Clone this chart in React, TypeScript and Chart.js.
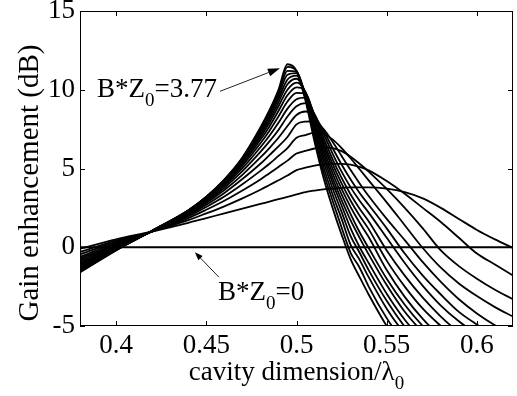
import React, { useEffect, useRef } from "react";
import { Chart, registerables } from "chart.js";

Chart.register(...registerables);

// cavity dimension / lambda0 sample positions
const cavity = [0.38, 0.40, 0.42, 0.44, 0.45, 0.46, 0.47, 0.48, 0.485, 0.49, 0.495, 0.50, 0.505, 0.51, 0.515, 0.52, 0.525, 0.53, 0.535, 0.54, 0.55, 0.56, 0.57, 0.58, 0.59, 0.60, 0.61, 0.62];

// gain enhancement (dB), one curve per B*Z0 value (lowest to highest, 3.77)
const gainB00 = [0, 0, 0, 0, 0, 0, 0, 0, 0, 0, 0, 0, 0, 0, 0, 0, 0, 0, 0, 0, 0, 0, 0, 0, 0, 0, 0, 0];
const gain01 = [-0.1, 0.5, 1.0, 1.55, 1.85, 2.15, 2.45, 2.75, 2.9, 3.05, 3.2, 3.35, 3.5, 3.6, 3.68, 3.73, 3.77, 3.8, 3.8, 3.8, 3.72, 3.5, 3.1, 2.5, 1.8, 1.1, 0.5, -0.05];
const gain02 = [-0.3, 0.42, 1.0, 1.72, 2.15, 2.6, 3.1, 3.65, 3.95, 4.25, 4.55, 4.9, 5.05, 5.18, 5.26, 5.3, 5.3, 5.25, 5.1, 4.88, 4.2, 3.4, 2.5, 1.6, 0.6, -0.4, -1.1, -1.8];
const gain03 = [-0.45, 0.34, 1.0, 1.85, 2.38, 2.95, 3.6, 4.3, 4.7, 5.1, 5.5, 5.95, 6.12, 6.27, 6.35, 6.3, 6.1, 5.75, 5.3, 4.8, 3.7, 2.5, 1.2, -0.2, -1.2, -2.0, -2.7, -3.3];
const gain04 = [-0.6, 0.27, 1.0, 1.95, 2.56, 3.22, 4.0, 4.85, 5.3, 5.8, 6.3, 6.95, 7.12, 7.28, 7.2, 6.85, 6.3, 5.65, 4.95, 4.25, 2.85, 1.4, -0.05, -1.3, -2.3, -3.1, -3.8, -4.4];
const gain05 = [-0.72, 0.2, 1.0, 2.03, 2.7, 3.45, 4.33, 5.3, 5.85, 6.4, 7.0, 7.8, 7.98, 8.0, 7.5, 6.7, 5.8, 4.9, 4.05, 3.25, 1.8, 0.45, -0.95, -2.2, -3.3, -4.2, -4.95, -5.6];
const gain06 = [-0.83, 0.14, 1.0, 2.1, 2.81, 3.63, 4.6, 5.7, 6.3, 6.95, 7.7, 8.4, 8.62, 8.3, 7.4, 6.3, 5.25, 4.3, 3.45, 2.7, 1.2, -0.4, -1.8, -3.0, -4.1, -4.9, -5.6, -6.2];
const gain07 = [-0.93, 0.09, 1.01, 2.15, 2.9, 3.78, 4.83, 6.05, 6.72, 7.45, 8.3, 8.95, 9.15, 8.45, 7.2, 5.95, 4.8, 3.8, 2.95, 2.2, 0.6, -1.0, -2.45, -3.7, -4.7, -5.5, -6.2, -6.8];
const gain08 = [-1.02, 0.04, 1.01, 2.2, 2.97, 3.9, 5.02, 6.35, 7.08, 7.9, 8.8, 9.4, 9.5, 8.4, 6.95, 5.6, 4.4, 3.35, 2.45, 1.65, -0.2, -1.8, -3.2, -4.4, -5.4, -6.2, -6.9, -7.5];
const gain09 = [-1.1, 0.0, 1.02, 2.23, 3.03, 4.0, 5.18, 6.6, 7.4, 8.3, 9.25, 9.8, 9.75, 8.3, 6.7, 5.3, 4.05, 2.95, 2.0, 1.15, -0.85, -2.5, -3.9, -5.0, -6.0, -6.8, -7.5, -8.1];
const gain10 = [-1.18, -0.04, 1.02, 2.26, 3.07, 4.07, 5.3, 6.82, 7.67, 8.65, 9.65, 10.15, 9.85, 8.2, 6.5, 5.0, 3.7, 2.55, 1.55, 0.65, -1.45, -3.15, -4.55, -5.7, -6.7, -7.5, -8.2, -8.8];
const gain11 = [-1.25, -0.08, 1.03, 2.28, 3.11, 4.13, 5.4, 7.0, 7.9, 8.95, 10.0, 10.45, 9.85, 8.05, 6.25, 4.7, 3.35, 2.1, 0.95, -0.05, -2.0, -3.65, -5.0, -6.1, -7.1, -7.9, -8.6, -9.2];
const gain12 = [-1.32, -0.11, 1.03, 2.3, 3.14, 4.18, 5.48, 7.15, 8.1, 9.2, 10.35, 10.7, 9.78, 7.9, 6.0, 4.4, 3.0, 1.7, 0.6, -0.45, -2.4, -4.1, -5.4, -6.5, -7.5, -8.3, -9.0, -9.6];
const gain13 = [-1.38, -0.14, 1.04, 2.31, 3.16, 4.22, 5.55, 7.28, 8.27, 9.42, 10.65, 10.9, 9.7, 7.7, 5.75, 4.1, 2.65, 1.2, 0.0, -1.0, -2.95, -4.6, -5.9, -7.0, -7.9, -8.7, -9.4, -10.0];
const gain14 = [-1.44, -0.16, 1.04, 2.32, 3.18, 4.25, 5.6, 7.38, 8.41, 9.6, 10.95, 11.05, 9.6, 7.5, 5.45, 3.75, 2.25, 0.7, -0.35, -1.45, -3.4, -5.05, -6.4, -7.5, -8.4, -9.2, -9.9, -10.5];
const gain15 = [-1.5, -0.18, 1.05, 2.33, 3.19, 4.27, 5.64, 7.47, 8.53, 9.76, 11.2, 11.15, 9.5, 7.25, 5.1, 3.35, 1.8, 0.15, -0.8, -1.9, -3.9, -5.5, -6.8, -7.9, -8.8, -9.6, -10.3, -10.9];
const gain16 = [-1.55, -0.19, 1.05, 2.34, 3.2, 4.29, 5.67, 7.54, 8.62, 9.89, 11.45, 11.2, 9.4, 7.0, 4.75, 2.95, 1.25, -0.35, -1.3, -2.5, -4.5, -6.1, -7.4, -8.5, -9.4, -10.2, -10.9, -11.5];
const gain17 = [-1.6, -0.2, 1.06, 2.35, 3.21, 4.3, 5.7, 7.6, 8.7, 10.0, 11.62, 11.2, 9.3, 6.7, 4.4, 2.5, 0.8, -0.75, -1.9, -3.0, -5.0, -6.6, -7.9, -9.0, -9.9, -10.7, -11.4, -12.0];

const gainCurves = [gain01, gain02, gain03, gain04, gain05, gain06, gain07, gain08, gain09, gain10, gain11, gain12, gain13, gain14, gain15, gain16, gain17];

const xTicks = [0.4, 0.45, 0.5, 0.55, 0.6];
const yTicks = [-5, 0, 5, 10, 15];

// annotation anchors in data coordinates
const labelHigh = { x: 0.3894, y: 9.52, main: "B*Z", sub: "0", rest: "=3.77" };
const labelLow = { x: 0.4565, y: -3.37, main: "B*Z", sub: "0", rest: "=0" };
const arrowHigh = { x0: 0.4576, y0: 9.9, x1: 0.4908, y1: 11.37 };
const arrowLow = { x0: 0.457, y0: -1.9, x1: 0.4437, y1: -0.32 };

const FONT = '"Liberation Serif", "Times New Roman", serif';

function drawSubText(ctx: CanvasRenderingContext2D, x: number, y: number, main: string, sub: string, rest: string, size: number, subSize: number) {
  ctx.textAlign = "left";
  ctx.textBaseline = "alphabetic";
  ctx.font = `${size}px ${FONT}`;
  ctx.fillText(main, x, y);
  let cx = x + ctx.measureText(main).width;
  ctx.font = `${subSize}px ${FONT}`;
  ctx.fillText(sub, cx, y + Math.round(size * 0.33));
  cx += ctx.measureText(sub).width;
  if (rest) {
    ctx.font = `${size}px ${FONT}`;
    ctx.fillText(rest, cx, y);
  }
}

function drawArrow(ctx: CanvasRenderingContext2D, x0: number, y0: number, x1: number, y1: number, len: number, half: number) {
  const ang = Math.atan2(y1 - y0, x1 - x0);
  const bx = x1 - len * Math.cos(ang);
  const by = y1 - len * Math.sin(ang);
  ctx.beginPath();
  ctx.moveTo(x0, y0);
  ctx.lineTo(bx, by);
  ctx.stroke();
  ctx.beginPath();
  ctx.moveTo(x1, y1);
  ctx.lineTo(bx + half * Math.sin(ang), by - half * Math.cos(ang));
  ctx.lineTo(bx - half * Math.sin(ang), by + half * Math.cos(ang));
  ctx.closePath();
  ctx.fill();
}

const decorPlugin = {
  id: "decor",
  afterDraw(chart: any) {
    const { ctx, chartArea: a, scales } = chart;
    const xs = scales.x;
    const ys = scales.y;
    ctx.save();
    ctx.strokeStyle = "#000";
    ctx.fillStyle = "#000";
    ctx.lineWidth = 1;
    ctx.strokeRect(a.left + 0.5, a.top + 0.5, a.right - a.left - 1, a.bottom - a.top - 1);
    ctx.beginPath();
    xTicks.forEach((v) => {
      const px = Math.round(xs.getPixelForValue(v)) + 0.5;
      ctx.moveTo(px, a.bottom);
      ctx.lineTo(px, a.bottom - 5);
      ctx.moveTo(px, a.top);
      ctx.lineTo(px, a.top + 5);
    });
    yTicks.forEach((v) => {
      const py = Math.round(ys.getPixelForValue(v)) + 0.5;
      ctx.moveTo(a.left, py);
      ctx.lineTo(a.left + 5, py);
      ctx.moveTo(a.right, py);
      ctx.lineTo(a.right - 5, py);
    });
    ctx.stroke();

    // axis titles
    ctx.font = `27px ${FONT}`;
    const t1 = "cavity dimension/\u03bb";
    const w1 = ctx.measureText(t1).width;
    ctx.font = `19px ${FONT}`;
    const w2 = ctx.measureText("0").width;
    const cx = (a.left + a.right) / 2;
    drawSubText(ctx, cx - (w1 + w2) / 2, 380, t1, "0", "", 27, 19);

    ctx.save();
    ctx.translate(30, 183);
    ctx.rotate(-Math.PI / 2);
    ctx.font = `29px ${FONT}`;
    ctx.textAlign = "center";
    ctx.textBaseline = "middle";
    ctx.fillText("Gain enhancement (dB)", 0, 0);
    ctx.restore();

    // annotations
    drawSubText(ctx, xs.getPixelForValue(labelHigh.x), ys.getPixelForValue(labelHigh.y), labelHigh.main, labelHigh.sub, labelHigh.rest, 27, 19);
    drawSubText(ctx, xs.getPixelForValue(labelLow.x), ys.getPixelForValue(labelLow.y), labelLow.main, labelLow.sub, labelLow.rest, 27, 19);
    ctx.strokeStyle = "#222";
    ctx.fillStyle = "#000";
    ctx.lineWidth = 1;
    drawArrow(ctx, xs.getPixelForValue(arrowHigh.x0), ys.getPixelForValue(arrowHigh.y0), xs.getPixelForValue(arrowHigh.x1), ys.getPixelForValue(arrowHigh.y1), 12, 4);
    drawArrow(ctx, xs.getPixelForValue(arrowLow.x0), ys.getPixelForValue(arrowLow.y0), xs.getPixelForValue(arrowLow.x1), ys.getPixelForValue(arrowLow.y1), 8, 3);
    ctx.restore();
  },
};

export default function App() {
  const ref = useRef<HTMLCanvasElement | null>(null);
  useEffect(() => {
    if (!ref.current) return;
    const datasets: any[] = gainCurves.map((ys, k) => ({
      label: `curve ${k + 1}`,
      data: ys.map((y, i) => ({ x: cavity[i], y })),
      borderColor: "#000",
      borderWidth: 1.8,
      pointRadius: 0,
      fill: false,
      cubicInterpolationMode: "monotone",
    }));
    datasets.push({
      label: "B*Z0=0",
      data: gainB00.map((y, i) => ({ x: cavity[i], y })),
      borderColor: "#000",
      borderWidth: 2.2,
      pointRadius: 0,
      fill: false,
    });
    const chart = new Chart(ref.current, {
      type: "line",
      data: { datasets },
      options: {
        responsive: false,
        animation: false,
        devicePixelRatio: 1,
        layout: { padding: { left: 0, right: 4, top: 11, bottom: 0 } },
        plugins: { legend: { display: false }, tooltip: { enabled: false } },
        scales: {
          x: {
            type: "linear",
            min: 0.38,
            max: 0.62,
            grid: { display: false, drawTicks: false },
            border: { display: false },
            ticks: {
              font: { family: FONT, size: 27 },
              color: "#000",
              padding: 4,
              maxRotation: 0,
              autoSkip: false,
              callback: (v: any) => String(v),
            },
            afterBuildTicks: (s: any) => {
              s.ticks = xTicks.map((v) => ({ value: v }));
            },
            afterFit: (s: any) => {
              s.height = 70;
              s.paddingLeft = 0;
              s.paddingRight = 0;
            },
          },
          y: {
            type: "linear",
            min: -5,
            max: 15,
            grid: { display: false, drawTicks: false },
            border: { display: false },
            ticks: {
              font: { family: FONT, size: 27 },
              color: "#000",
              padding: 5,
              autoSkip: false,
              callback: (v: any) => String(v),
            },
            afterBuildTicks: (s: any) => {
              s.ticks = yTicks.map((v) => ({ value: v }));
            },
            afterFit: (s: any) => {
              s.width = 80;
              s.paddingTop = 0;
              s.paddingBottom = 0;
            },
          },
        },
      },
      plugins: [decorPlugin],
    });
    return () => chart.destroy();
  }, []);
  return (
    <div style={{ position: "fixed", left: 0, top: 0, width: 517, height: 396, background: "#fff" }}>
      <canvas ref={ref} width={517} height={396} style={{ display: "block" }} />
    </div>
  );
}
